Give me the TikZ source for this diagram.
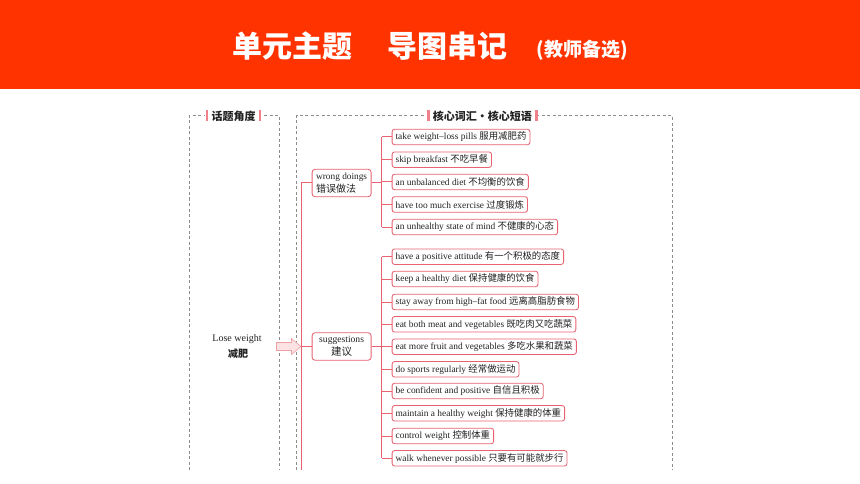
\documentclass[tikz,border=0pt]{standalone}
\usepackage{fontspec}
\setmainfont{Liberation Serif}
\newfontfamily\cjk{Noto Sans CJK SC}
\usetikzlibrary{calc}
\definecolor{hdrred}{RGB}{255,51,0}
\definecolor{pinkln}{RGB}{232,98,112}
\definecolor{dashg}{RGB}{140,140,140}
\definecolor{barpk}{RGB}{240,128,138}
\definecolor{arrfill}{RGB}{252,226,226}
\definecolor{arrdraw}{RGB}{240,160,164}
\definecolor{txt}{RGB}{34,34,34}
\begin{document}
\begin{tikzpicture}[x=1pt,y=-1pt,
 link/.style={draw=pinkln,line width=1pt},
 panel/.style={draw=dashg,line width=0.7pt,dash pattern=on 3pt off 2.5pt},
 leaf/.style={draw=pinkln,line width=0.85pt,rounded corners=2.5pt,fill=white,anchor=west,inner xsep=3.5pt,inner ysep=0pt,minimum height=15.5pt,text=txt,font=\fontsize{9.4}{10}\selectfont},
 cat/.style={draw=pinkln,line width=0.85pt,rounded corners=3pt,fill=white,anchor=west,minimum width=59pt,minimum height=27.5pt,inner sep=0pt,text=txt,font=\fontsize{9.3}{12.5}\selectfont},
 hdr/.style={fill=white,inner xsep=6.5pt,inner ysep=1.5pt,text=txt,font=\cjk\bfseries\fontsize{11}{12}\selectfont},
 bar/.style={fill=barpk},
 ttl/.style={text=white,inner sep=0pt,font=\cjk\bfseries\fontsize{30}{32}\selectfont},
]
\useasboundingbox (0,0) rectangle (860,484);
\fill[white] (0,0) rectangle (860,484);
% header band
\fill[hdrred] (0,0) rectangle (860,89.5);
\node[ttl] (t1) at (292,46) {单元主题};
\node[ttl] (t2) at (447.5,46) {导图串记};
\node[ttl,font=\cjk\bfseries\fontsize{19}{20}\selectfont] (t3) at (582.5,50) {(教师备选)};
% panels
\draw[panel] (189.3,470) -- (189.3,115.7) -- (279.3,115.7) -- (279.3,470);
\draw[panel] (296.7,470) -- (296.7,115.7) -- (672.3,115.7) -- (672.3,470);
\node[hdr] (hl) at (233.5,116) {话题角度};
\fill[bar] ($(hl.west)+(0.8,-5.5)$) rectangle ++(2.6,11);
\fill[bar] ($(hl.east)+(-3.4,-5.5)$) rectangle ++(2.6,11);
\node[hdr] (hr) at (482.4,116) {核心词汇·核心短语};
\fill[bar] ($(hr.west)+(0.8,-5.5)$) rectangle ++(2.6,11);
\fill[bar] ($(hr.east)+(-3.4,-5.5)$) rectangle ++(2.6,11);
% left topic
\node[text=txt,font=\fontsize{10}{11}\selectfont] (lw) at (237,339.5) {Lose weight};
\node[text=txt,font=\cjk\bfseries\fontsize{10}{11}\selectfont] (lz) at (238,354) {减肥};
% categories
\node[cat,align=left] (wd) at (311.7,183) {wrong doings\\{\cjk\fontsize{10}{12.5}\selectfont 错误做法}};
\node[cat,align=center,font=\fontsize{9.6}{12.5}\selectfont] (sg) at (311.7,346.5) {suggestions\\{\cjk\fontsize{10.5}{12.5}\selectfont 建议}};
\coordinate (tb) at (301.5,470);
\coordinate (b1) at (381.7,0);
\draw[link] (wd.west) -| (tb);
\draw[link] (sg.west) -- (sg.west -| tb);
% arrow
\draw[draw=arrdraw,fill=arrfill,line width=0.6pt] (276.5,342.5) -- (291.5,342.5) -- (291.5,338.5) -- (301,346.5) -- (291.5,354.5) -- (291.5,350.5) -- (276.5,350.5) -- cycle;
% leaves
\foreach \n/\y/\e/\c in {
 w1/137/take weight–loss pills/服用减肥药,
 w2/159.7/skip breakfast/不吃早餐,
 w3/182/an unbalanced diet/不均衡的饮食,
 w4/204.5/have too much exercise/过度锻炼,
 w5/227/an unhealthy state of mind/不健康的心态,
 s1/256.7/have a positive attitude/有一个积极的态度,
 s2/279/keep a healthy diet/保持健康的饮食,
 s3/302/stay away from high–fat food/远离高脂肪食物,
 s4/324.3/eat both meat and vegetables/既吃肉又吃蔬菜,
 s5/346.7/eat more fruit and vegetables/多吃水果和蔬菜,
 s6/369.3/do sports regularly/经常做运动,
 s7/391/be confident and positive/自信且积极,
 s8/413.3/maintain a healthy weight/保持健康的体重,
 s9/436/control weight/控制体重,
 s10/458.3/walk whenever possible/只要有可能就步行}{
  \node[leaf] (\n) at (391.7,\y) {\e\ {\cjk \c}};
  \draw[link] (\n.west) -- (\n.west -| b1);
}
\draw[link] (w1.west -| b1) -- (w5.west -| b1);
\draw[link] (wd.east) -- (wd.east -| b1);
\draw[link] (s1.west -| b1) -- (s10.west -| b1);
\draw[link] (sg.east) -- (sg.east -| b1);
\end{tikzpicture}
\end{document}
